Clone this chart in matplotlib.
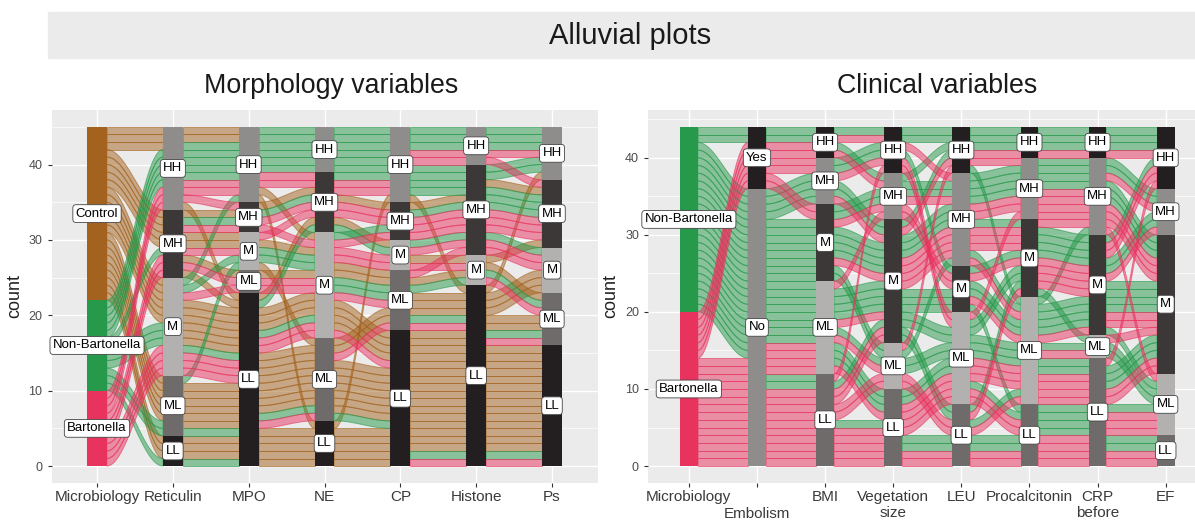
import numpy as np
import matplotlib.pyplot as plt
from matplotlib.colors import to_rgba
from matplotlib.patches import Rectangle

plt.rcParams['font.family'] = ['Liberation Sans', 'DejaVu Sans']

# ---------------- data ----------------
levels = ["LL", "ML", "M", "MH", "HH"]          # bottom -> top

# left panel: 45 subjects (10 Bartonella, 12 Non-Bartonella, 23 Control)
morph_groups = ["Bartonella", "Non-Bartonella", "Control"]
morph_colors = ["#E8335F", "#26994A", "#A3621E"]
morph_axes = ["Microbiology", "Reticulin", "MPO", "NE", "CP", "Histone", "Ps"]
morph_micro = ["Bartonella"] * 10 + ["Non-Bartonella"] * 12 + ["Control"] * 23
reticulin = ("M M M M MH MH MH HH HH HH "
             "LL ML ML M M M MH HH HH HH HH HH "
             "LL LL LL ML ML ML ML ML ML M M M M M M MH MH MH MH MH HH HH HH").split()
mpo = ("LL LL ML LL ML M MH MH HH HH "
       "LL LL M LL M HH MH HH HH HH HH HH "
       "LL LL LL LL LL LL LL LL LL LL LL LL LL LL LL LL ML M M MH HH LL HH").split()
ne = ("M M M ML M MH M MH MH MH "
      "ML M M MH M HH MH HH HH HH HH HH "
      "LL LL ML LL LL ML ML ML LL ML ML ML M M ML M M M ML MH M MH LL").split()
cp = ("ML LL M ML M MH MH MH HH HH "
      "LL ML ML M MH HH HH HH HH HH HH HH "
      "LL LL LL LL LL LL LL LL LL LL LL ML LL LL ML LL ML ML LL M LL MH HH").split()
histone = ("LL LL M MH MH MH MH MH HH HH "
           "LL LL M MH MH MH MH MH MH HH HH HH "
           "LL LL LL LL LL LL LL LL LL LL LL LL LL LL LL LL LL M LL M LL MH LL").split()
ps = ("LL ML ML M M MH MH MH MH HH "
      "LL ML ML M MH HH MH MH HH HH HH HH "
      "LL LL LL LL LL LL LL ML LL LL LL LL M LL LL ML M ML LL MH M MH HH").split()

# right panel: 44 subjects (20 Bartonella, 24 Non-Bartonella)
clin_groups = ["Bartonella", "Non-Bartonella"]
clin_colors = ["#E8335F", "#26994A"]
clin_axes = ["Microbiology", "Embolism", "BMI", "Vegetation\nsize", "LEU",
             "Procalcitonin", "CRP\nbefore", "EF"]
clin_micro = ["Bartonella"] * 20 + ["Non-Bartonella"] * 24
embolism = ["No"] * 14 + ["Yes"] * 6 + ["No"] * 22 + ["Yes"] * 2
bmi = ("LL LL LL LL LL LL LL LL LL LL ML ML ML ML M M MH MH HH HH "
       "LL LL ML ML ML ML ML ML ML ML M M M M M M M M MH MH MH MH HH HH").split()
veg = ("LL LL LL ML LL M ML LL M HH M ML LL MH MH M HH M MH HH "
       "LL M LL M LL M ML M LL M M ML M MH M ML M MH M HH M HH MH HH").split()
leu = ("LL LL ML LL ML MH LL ML MH ML MH HH ML MH M HH ML MH M MH "
       "LL ML ML LL ML M MH ML LL MH M ML MH HH LL ML M MH HH M MH HH MH HH").split()
pct = ("LL LL LL ML LL ML M ML MH ML M MH ML M M HH MH M ML MH "
       "LL ML LL ML ML ML ML M LL MH ML M MH HH M ML M MH HH LL M HH MH ML").split()
crp = ("LL LL LL LL LL LL M LL MH LL M MH ML M MH HH MH M M MH "
       "LL LL LL M LL M M ML LL MH M M MH HH M ML M MH HH LL M HH MH MH").split()
ef = ("LL ML M ML M HH M ML M LL HH M M MH M HH ML M HH MH "
      "LL M ML M M HH M ML LL MH M ML M HH M ML MH M HH M MH HH MH M").split()

# grey fills of the strata
morph_fill = ["#231F20", "#6F6B6B", "#B3B0B0", "#3D3838", "#8F8C8C"]   # LL ML M MH HH
clin_fill = ["#6F6B6B", "#B3B0B0", "#3D3838", "#8F8C8C", "#231F20"]
emb_levels = ["No", "Yes"]
emb_fill = ["#8F8C8C", "#231F20"]


def flow_verts(x0, x1, yl, yr, n=40):
    t = np.linspace(0, 1, n)
    s = (1 - np.cos(np.pi * t)) / 2
    xs = x0 + (x1 - x0) * t
    lo = yl + (yr - yl) * s
    return np.r_[xs, xs[::-1]], np.r_[lo, lo[::-1] + 1]


def draw_panel(ax, names, columns, level_sets, fill_sets, group_colors):
    codes = [np.array([lv.index(v) for v in col]) for col, lv in zip(columns, level_sets)]
    g = codes[0]
    n = len(g)
    idx = np.arange(n)
    w = 0.26
    xs = np.arange(1, len(columns) + 1)
    draw_order = np.lexsort((idx, -g))
    for i in range(len(columns) - 1):
        a, b = codes[i], codes[i + 1]
        left = np.empty(n)
        left[np.lexsort((idx, g, b, a))] = np.arange(n)
        right = np.empty(n)
        right[np.lexsort((idx, g, a, b))] = np.arange(n)
        for k in draw_order:
            fx, fy = flow_verts(xs[i] + w / 2, xs[i + 1] - w / 2, left[k], right[k])
            col = group_colors[g[k]]
            ax.fill(fx, fy, facecolor=to_rgba(col, 0.5), edgecolor=to_rgba(col, 0.6),
                    lw=0.7, zorder=2)
    for i, (c, lv, fills) in enumerate(zip(codes, level_sets, fill_sets)):
        counts = np.bincount(c, minlength=len(lv))
        bottom = 0
        for j, name in enumerate(lv):
            if counts[j] == 0:
                continue
            ax.bar(xs[i], counts[j], bottom=bottom, width=w, color=fills[j], zorder=3)
            ax.text(xs[i], bottom + counts[j] / 2, name, ha='center', va='center',
                    fontsize=9.5, color='black', zorder=4,
                    bbox=dict(boxstyle='round,pad=0.22,rounding_size=0.25', fc='white',
                              ec='#444444', lw=0.6))
            bottom += counts[j]
    ax.set_facecolor('#EBEBEB')
    ax.set_xticks(xs)
    ax.set_xticklabels(names)
    ax.set_yticks([0, 10, 20, 30, 40])
    ax.set_yticks([5, 15, 25, 35, 45], minor=True)
    ax.tick_params(axis='both', which='major', length=3, color='#333333',
                   labelcolor='#4D4D4D', labelsize=9)
    ax.tick_params(axis='x', labelcolor='#3A3A3A', labelsize=11, pad=2)
    ax.tick_params(axis='y', which='minor', length=0)
    ax.grid(True, which='major', color='white', lw=1.0, zorder=0)
    ax.grid(True, which='minor', axis='y', color='white', lw=0.5, zorder=0)
    ax.set_axisbelow(True)
    for sp in ax.spines.values():
        sp.set_visible(False)
    ax.set_ylabel('count', fontsize=13, color='#222222', labelpad=4)
    return n


fig = plt.figure(figsize=(11.95, 5.24), dpi=100)
W, H = 1195, 524

# title strip
fig.add_artist(Rectangle((48 / W, 1 - 58 / H), 1 - 48 / W, 46 / H,
                         transform=fig.transFigure, color='#EBEBEB', zorder=0))
fig.text(630 / W, 1 - 36 / H, 'Alluvial plots', ha='center', va='center',
         fontsize=21, color='#1A1A1A')
fig.text(331 / W, 1 - 86 / H, 'Morphology variables', ha='center', va='center',
         fontsize=19.3, color='#1A1A1A')
fig.text(937 / W, 1 - 86 / H, 'Clinical variables', ha='center', va='center',
         fontsize=19.3, color='#1A1A1A')

axL = fig.add_axes([51.5 / W, 41 / H, 546 / W, 373 / H])
draw_panel(axL, morph_axes,
           [morph_micro, reticulin, mpo, ne, cp, histone, ps],
           [morph_groups] + [levels] * 6,
           [morph_colors] + [morph_fill] * 6,
           morph_colors)
axL.set_xlim(0.4, 7.6)
axL.set_ylim(-2.25, 47.25)

axR = fig.add_axes([648 / W, 41 / H, 547 / W, 373 / H])
draw_panel(axR, clin_axes,
           [clin_micro, embolism, bmi, veg, leu, pct, crp, ef],
           [clin_groups, emb_levels] + [levels] * 6,
           [clin_colors, emb_fill] + [clin_fill] * 6,
           clin_colors)
axR.set_xlim(0.4, 1 + (1195 - 689) / 68.1)
axR.set_ylim(-2.2, 46.2)
# dodge the Embolism label down one line
axR.xaxis.get_major_ticks()[1].set_pad(2 + 12.5)

fig.savefig('out.png', dpi=100)
